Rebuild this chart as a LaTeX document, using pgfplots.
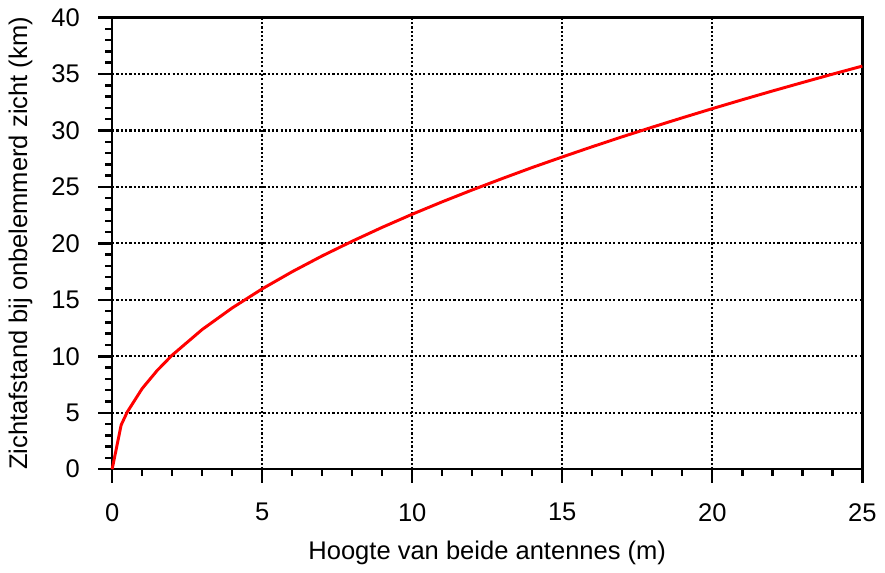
\documentclass[border=0pt]{standalone}
\usepackage{fontspec}
\setmainfont{Liberation Sans}
\usepackage{pgfplots}
\pgfplotsset{compat=1.18}
\begin{document}
\fontsize{26pt}{30pt}\selectfont
\begin{tikzpicture}
\begin{axis}[
  scale only axis,
  width=764pt, height=460pt,
  xmin=0, xmax=25, ymin=0, ymax=40,
  xtick={0,5,...,25}, ytick={0,5,...,40},
  minor x tick num=4, minor y tick num=4,
  tick align=outside,
  xtick pos=left, ytick pos=left,
  major tick length=14pt, minor tick length=7pt,
  every tick/.style={black, line width=2.5pt},
  axis line style={black, line width=2.6pt},
  grid=major,
  major grid style={black, line width=2.2pt, dash pattern=on 2.2pt off 2.2pt},
  /pgf/number format/assume math mode=true,
  tick label style={font=\fontsize{26pt}{30pt}\selectfont},
  label style={font=\fontsize{26pt}{30pt}\selectfont},
  xticklabel style={yshift=-12pt},
  yticklabel style={xshift=-10pt},
  xlabel={Hoogte van beide antennes (m)},
  ylabel={Zichtafstand bij onbelemmerd zicht (km)},
  xlabel style={yshift=-2pt},
  ylabel style={yshift=2pt},
  clip=false,
]
\addplot[red, line width=3pt, line join=round] coordinates {
(0,0) (0.3,3.91) (0.5,5.05) (1,7.14) (1.5,8.74) (2,10.10) (3,12.37) (4,14.28)
(5,15.97) (6,17.49) (7,18.89) (8,20.19) (9,21.42) (10,22.58) (11,23.68)
(12,24.73) (13,25.74) (14,26.72) (15,27.65) (16,28.56) (17,29.44) (18,30.29)
(19,31.12) (20,31.93) (21,32.72) (22,33.49) (23,34.24) (24,34.98) (25,35.70)
};
\end{axis}
\end{tikzpicture}
\end{document}
